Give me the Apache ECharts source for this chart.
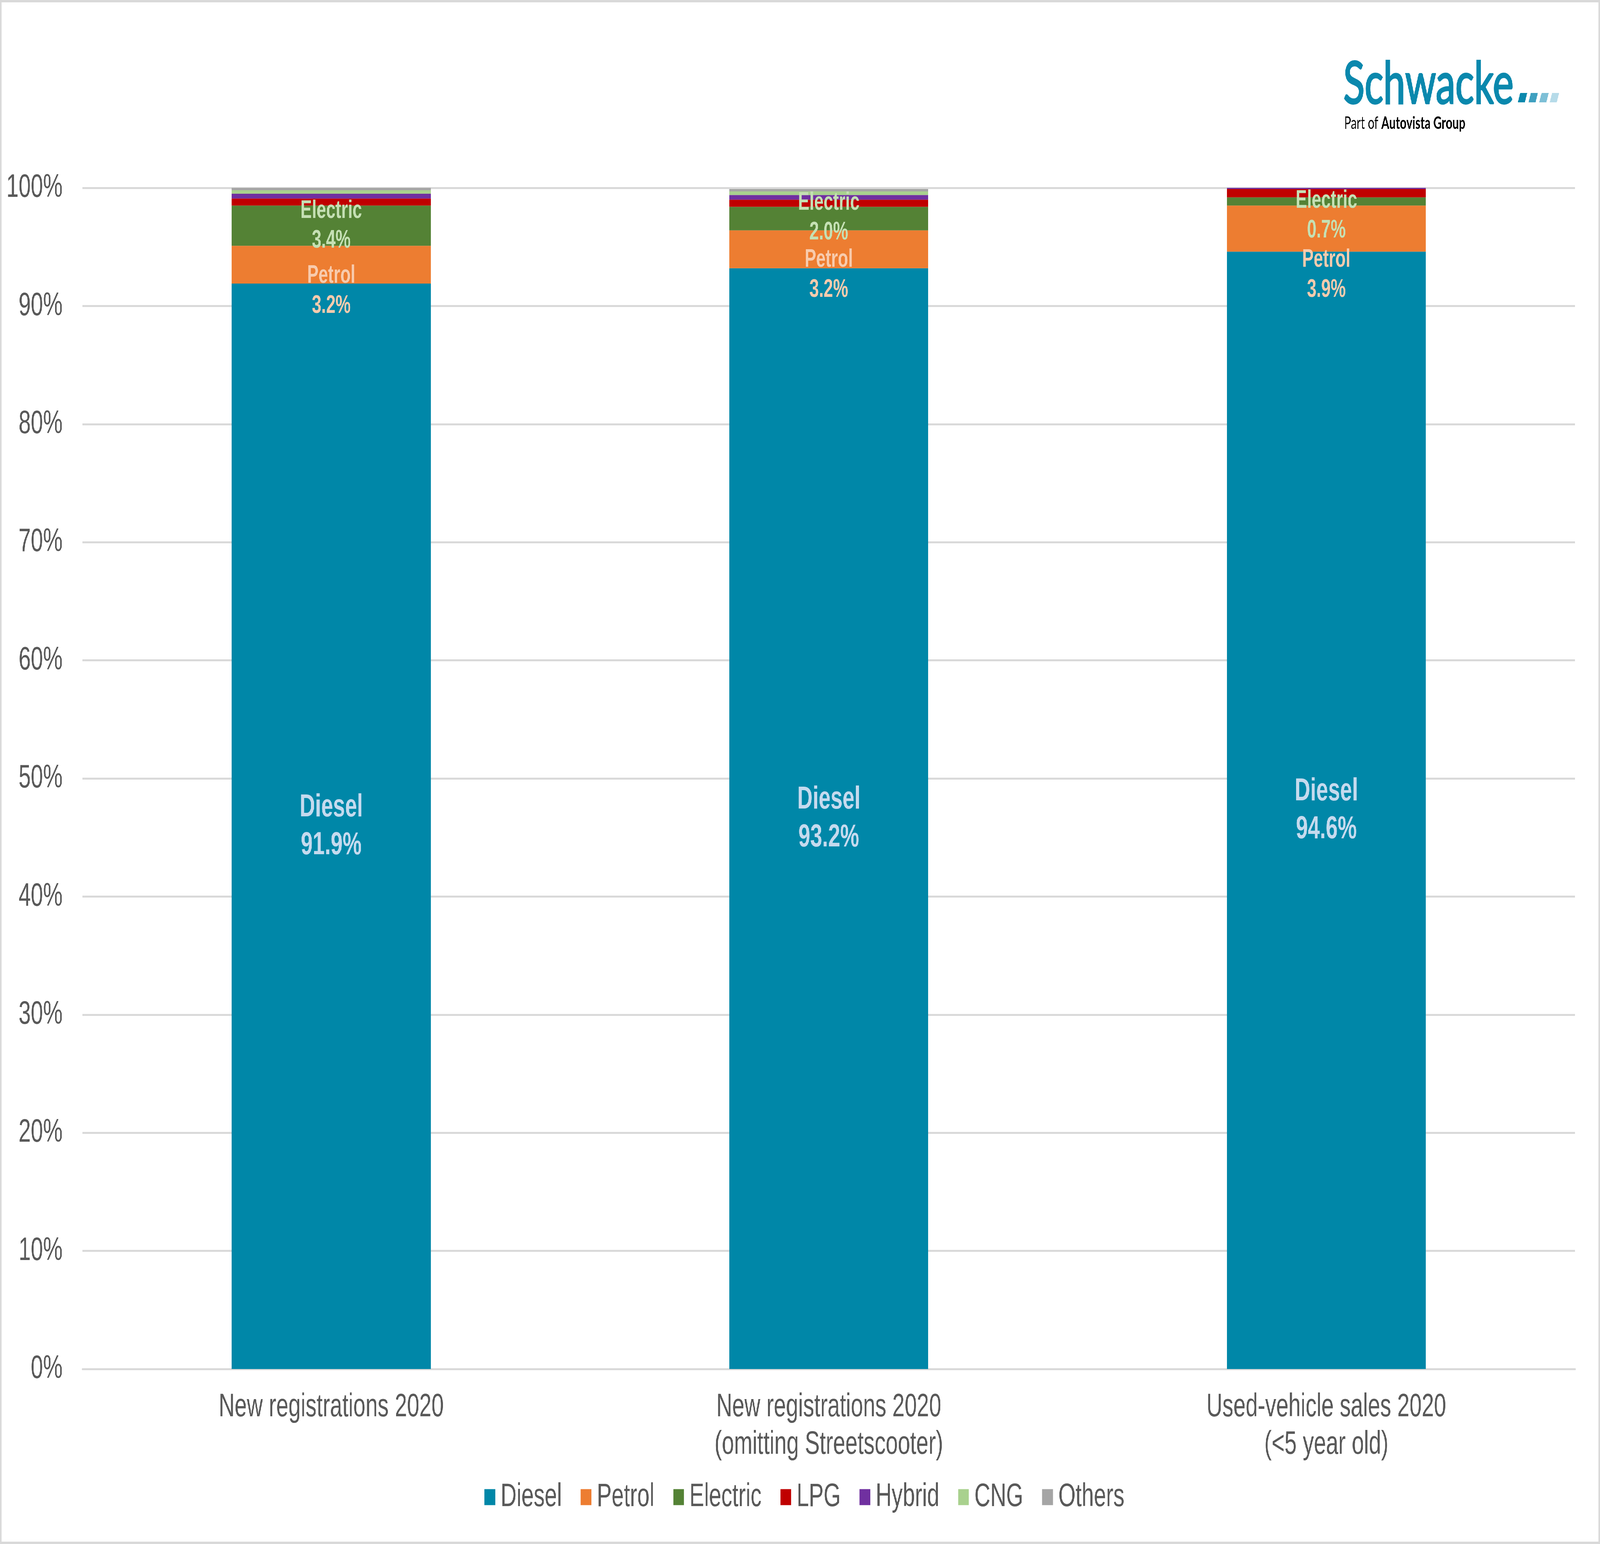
<!DOCTYPE html>
<html><head><meta charset="utf-8">
<script src="https://cdn.jsdelivr.net/npm/echarts/dist/echarts.min.js"></script>
<style>
html,body{margin:0;padding:0;background:#fff;overflow:hidden;}
#wrap{position:absolute;left:0;top:0;width:6110px;height:3953px;transform-origin:0 0;}
#chart{position:absolute;left:0;top:0;width:6110px;height:3953px;}
#frame{position:absolute;left:0;top:0;width:6110px;height:3953px;box-sizing:border-box;border:6px solid #D9D9D9;pointer-events:none;}
</style></head><body>
<div id="wrap"><div id="chart"></div><div id="frame"></div></div>
<script>
// ---- data ----
const categories = ['New registrations 2020', 'New registrations 2020\n(omitting Streetscooter)', 'Used-vehicle sales 2020\n(<5 year old)'];
const seriesNames = ['Diesel', 'Petrol', 'Electric', 'LPG', 'Hybrid', 'CNG', 'Others'];
const diesel   = [91.9, 93.2, 94.6];
const petrol   = [3.2, 3.2, 3.9];
const electric = [3.4, 2.0, 0.7];
const lpg      = [0.6, 0.6, 0.7];
const hybrid   = [0.4, 0.4, 0.1];
const cng      = [0.3, 0.3, 0.1];
const others   = [0.2, 0.2, 0.0];
const yTickValues = [0, 10, 20, 30, 40, 50, 60, 70, 80, 90, 100];

// ---- fit the 6110x3953 design into the actual window ----
const DESIGN_W = 6110, DESIGN_H = 3953;
const sx = (window.innerWidth || DESIGN_W) / DESIGN_W;
const sy = (window.innerHeight || DESIGN_H) / DESIGN_H;
document.getElementById('wrap').style.transform = 'scale(' + sx + ',' + sy + ')';

// ---- styles ----
const FONT = '"Liberation Sans", Arial, sans-serif';
const colors = {
  Diesel: '#0087A8', Petrol: '#ED7D31', Electric: '#548235', LPG: '#C00000',
  Hybrid: '#7030A0', CNG: '#A9D18E', Others: '#A5A5A5'
};
const labelStyles = {
  Diesel:   { color: '#C5DAEE', fontSize: 82, lineHeight: 97 },
  Petrol:   { color: '#F8CBAD', fontSize: 65, lineHeight: 77 },
  Electric: { color: '#C5E0B4', fontSize: 65, lineHeight: 76 }
};
// manual label shifts (pixels, downward) as placed in the original
const labelShift = {
  Diesel:   [0, 0, 0],
  Petrol:   [67, 65, 118],
  Electric: [0, -3, 36]
};

const values = [diesel, petrol, electric, lpg, hybrid, cng, others];

const series = seriesNames.map((name, si) => {
  const ls = labelStyles[name];
  return {
    name: name,
    type: 'bar',
    stack: 'total',
    barWidth: '40%',
    itemStyle: { color: colors[name] },
    emphasis: { disabled: true },
    data: values[si].map((v, i) => {
      const d = { value: v };
      if (ls) d.label = { offset: [0, labelShift[name][i]] };
      return d;
    }),
    label: ls ? {
      show: true,
      position: 'inside',
      fontFamily: FONT,
      fontWeight: 'bold',
      color: ls.color,
      fontSize: ls.fontSize,
      lineHeight: ls.lineHeight,
      formatter: p => p.seriesName + '\n' + Number(p.value).toFixed(1) + '%'
    } : { show: false }
  };
});

const chart = echarts.init(document.getElementById('chart'), null, { renderer: 'canvas', width: DESIGN_W, height: DESIGN_H });

const logoColor = '#0A88AD';
const dashColors = ['#0A88AD', '#3FA0C0', '#7DBFD6', '#B6DBE9'];
const dashX = [5796, 5837, 5878, 5918];
const dashes = dashX.map((x, i) => ({
  type: 'polygon',
  shape: { points: [[x + 9, 238], [x + 36, 238], [x + 27, 262], [x, 262]] },
  style: { fill: dashColors[i] }
}));

chart.setOption({
  animation: false,
  backgroundColor: '#ffffff',
  grid: { left: 315, right: 95, top: 481, bottom: 448, containLabel: false, outerBoundsMode: 'none' },
  xAxis: {
    type: 'category',
    data: categories,
    axisTick: { show: false },
    axisLine: { show: true, lineStyle: { color: '#D9D9D9', width: 5 } },
    axisLabel: { fontFamily: FONT, fontSize: 84, lineHeight: 96, color: '#595959', margin: 50, interval: 0 },
    splitLine: { show: false }
  },
  yAxis: {
    type: 'value',
    min: yTickValues[0],
    max: yTickValues[yTickValues.length - 1],
    interval: yTickValues[1] - yTickValues[0],
    axisLine: { show: false },
    axisTick: { show: false },
    axisLabel: { fontFamily: FONT, fontSize: 84, color: '#595959', margin: 76, formatter: v => v + '%' },
    splitLine: { show: true, lineStyle: { color: '#D9D9D9', width: 5 } }
  },
  legend: {
    data: seriesNames,
    left: 1845,
    top: 3786,
    icon: 'rect',
    itemWidth: 41,
    itemHeight: 41,
    itemGap: 72,
    selectedMode: false,
    textStyle: { fontFamily: FONT, fontSize: 84, color: '#595959', padding: [0, 0, 0, 16] }
  },
  series: series,
  graphic: [
    {
      type: 'text', left: 5128, top: 140,
      style: { text: 'Schwacke', fill: logoColor, stroke: logoColor, lineWidth: 4,
               font: 'normal 150px Lato, "Open Sans", sans-serif' }
    },
    {
      type: 'text', left: 5133, top: 294,
      style: {
        text: '{a|Part of }{b|Autovista Group}',
        rich: {
          a: { fontFamily: 'Lato, sans-serif', fontSize: 44, color: '#3A3A3A' },
          b: { fontFamily: 'Lato, sans-serif', fontSize: 44, fontWeight: 'bold', color: '#3A3A3A' }
        }
      }
    }
  ].concat(dashes)
});
</script>
</body></html>
